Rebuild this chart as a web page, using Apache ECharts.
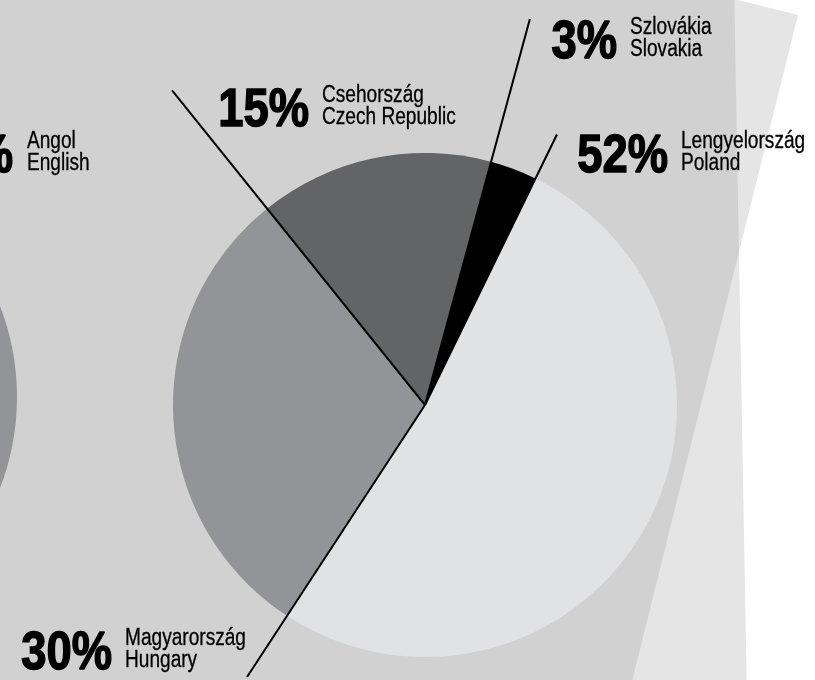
<!DOCTYPE html>
<html>
<head>
<meta charset="utf-8">
<script src="https://cdn.jsdelivr.net/npm/echarts@6/dist/echarts.min.js"></script>
<style>
  html, body { margin: 0; padding: 0; background: #fff; }
  #viewData { width: 815px; height: 680px; }
</style>
</head>
<body>
<div id="viewData"></div>
<script>
// 数据: országok / countries, clockwise from the Poland slice
var names = ["Lengyelország", "Magyarország", "Csehország", "Szlovákia"];
var namesEn = ["Poland", "Hungary", "Czech Republic", "Slovakia"];
var shares = [52, 30, 15, 3];
var colors = ["#e1e2e4", "#939497", "#636466", "#000000"];

// the neighbouring pie, cut off at the left edge
var otherNames = ["Angol"];
var otherNamesEn = ["English"];
var otherShares = [1];

// layout only
var center = [425, 405];
var radius = 252;
var startAngle = 64;
var leaderLen = [301, 325, 404, 400];
// percent right edge x, baseline y
var labelAt = [[668, 173], [112, 670], [309, 127], [617, 59]];

var pctFont = "bold 54px 'Liberation Sans', Arial, sans-serif";
var nameFont = "23px 'Liberation Sans', Arial, sans-serif";
var paper = "rgba(142,143,146,0.231)";

// slice start boundaries in percent
var bounds = [];
var acc = 0;
for (var i = 0; i < shares.length; i++) {
  bounds.push(acc);
  acc += shares[i];
}

var graphics = [
  // straight sheet
  { type: "polygon", z: 0, silent: true,
    shape: { points: [[-20, -20], [734, -20], [747, 700], [-20, 700]] },
    style: { fill: paper } },
  // tilted sheet
  { type: "polygon", z: 0, silent: true,
    shape: { points: [[798, 15], [-500, -308], [-900, 1300], [403, 1600]] },
    style: { fill: paper } }
];

// condensed look: squeeze the text horizontally
function pctText(txt, x, y) {
  return { type: "text", z: 100, silent: true, x: x, y: y, scaleX: 0.84,
    style: { text: txt, x: 0, y: 0, font: pctFont, fill: "#000",
      stroke: "#000", lineWidth: 1.5,
      textAlign: "right", textVerticalAlign: "bottom" } };
}
function nameText(n1, n2, x, y) {
  return { type: "text", z: 100, silent: true, x: x, y: y, scaleX: 0.83,
    style: { text: n1 + "\n" + n2, x: 0, y: 0, font: nameFont, fill: "#000",
      stroke: "#000", lineWidth: 0.3,
      lineHeight: 22, textAlign: "left", textVerticalAlign: "bottom" } };
}
for (var k = 0; k < shares.length; k++) {
  graphics.push(pctText(shares[k] + "%", labelAt[k][0], labelAt[k][1] + 11));
  graphics.push(nameText(names[k], namesEn[k], labelAt[k][0] + 13, labelAt[k][1] + 2));
}
// label of the cut-off pie (only the tail of its percent sign shows)
graphics.push(pctText("%", 13, 184));
graphics.push(nameText(otherNames[0], otherNamesEn[0], 27, 175));

var series = [
  {
    type: "pie",
    center: center,
    radius: radius,
    startAngle: startAngle,
    clockwise: true,
    silent: true,
    label: { show: false },
    labelLine: { show: false },
    itemStyle: { borderWidth: 0 },
    data: shares.map(function (v, i) {
      return { value: v, name: namesEn[i], itemStyle: { color: colors[i] } };
    })
  },
  {
    type: "pie",
    center: [-235, 397],
    radius: radius,
    silent: true,
    label: { show: false },
    labelLine: { show: false },
    data: otherShares.map(function (v, i) {
      return { value: v, name: otherNamesEn[i], itemStyle: { color: "#939497" } };
    })
  }
];

// leader lines along each slice's starting edge
bounds.forEach(function (b, i) {
  series.push({
    type: "line",
    coordinateSystem: "polar",
    symbol: "none",
    silent: true,
    clip: false,
    z: 5,
    lineStyle: { color: "#000", width: 2 },
    data: [[0, b], [leaderLen[i], b]]
  });
});

var myChart = echarts.init(document.getElementById("viewData"));
var option = {
  animation: false,
  backgroundColor: "#fff",
  polar: { center: center, radius: 404 },
  angleAxis: { type: "value", min: 0, max: 100, startAngle: startAngle, clockwise: true, show: false },
  radiusAxis: { type: "value", min: 0, max: 404, show: false },
  graphic: graphics,
  series: series
};
myChart.setOption(option);
</script>
</body>
</html>
